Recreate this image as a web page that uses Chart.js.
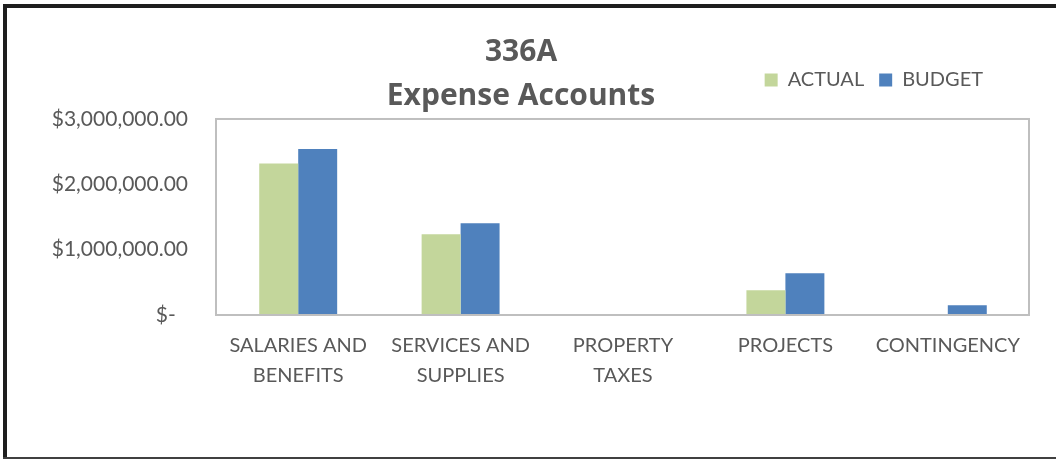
<!DOCTYPE html>
<html>
<head>
<meta charset="utf-8">
<script src="https://cdn.jsdelivr.net/npm/chart.js@4/dist/chart.umd.min.js"></script>
<style>
  html, body { margin: 0; padding: 0; background: #ffffff; }
  #wrap { position: relative; width: 1056px; height: 459px; }
</style>
</head>
<body>
<div id="wrap"><canvas id="c" width="1056" height="459"></canvas></div>
<script>
const categories = [
  ['SALARIES AND', 'BENEFITS'],
  ['SERVICES AND', 'SUPPLIES'],
  ['PROPERTY', 'TAXES'],
  'PROJECTS',
  'CONTINGENCY'
];
const actualValues = [2320000, 1235000, 0, 378000, 0];
const budgetValues = [2540000, 1405000, 0, 638000, 148000];
const seriesNames = ['ACTUAL', 'BUDGET'];
const titleLines = ['336A', 'Expense Accounts'];
const yTickMax = 3000000;
const yTickStep = 1000000;

const FONT = 'Lato';
const TEXT = '#595959';

function money(v) {
  if (v === 0) return '$-\u2007';
  const s = Math.round(v).toString().replace(/\B(?=(\d{3})+(?!\d))/g, ',');
  return '$' + s + '.00';
}

const decor = {
  id: 'decor',
  afterLayout(chart) {
    const lg = chart.legend;
    const h = lg.height;
    lg.top = 55; lg.bottom = 55 + h;
    lg.right = 998;
  },
  afterDatasetsDraw(chart) {
    const {ctx, chartArea: a} = chart;
    ctx.save();
    ctx.strokeStyle = '#BFBFBF';
    ctx.lineWidth = 2;
    ctx.strokeRect(a.left - 1, a.top, a.right - a.left + 1, a.bottom - a.top);
    ctx.restore();
  },
  afterDraw(chart) {
    const ctx = chart.ctx;
    ctx.save();
    ctx.fillStyle = '#1e1e1e';
    ctx.fillRect(3, 4, 1053, 4);
    ctx.fillRect(3, 4, 4, 455);
    ctx.fillStyle = '#404040';
    ctx.fillRect(3, 457, 1053, 2);
    ctx.restore();
  }
};

new Chart(document.getElementById('c'), {
  type: 'bar',
  data: {
    labels: categories,
    datasets: [
      { label: seriesNames[0], data: actualValues, backgroundColor: '#C3D69B', borderWidth: 0 },
      { label: seriesNames[1], data: budgetValues, backgroundColor: '#4F81BD', borderWidth: 0 }
    ]
  },
  options: {
    responsive: false,
    animation: false,
    devicePixelRatio: 1,
    layout: { padding: { left: 13, right: 27, top: 0, bottom: 0 } },
    datasets: { bar: { categoryPercentage: 0.48, barPercentage: 1.0 } },
    plugins: {
      title: {
        display: true,
        text: titleLines,
        color: TEXT,
        font: { family: 'Open Sans', size: 30, weight: 'bold', lineHeight: 1.483 },
        padding: { top: 30, bottom: -45 }
      },
      legend: {
        display: true,
        position: 'top',
        align: 'end',
        labels: {
          color: TEXT,
          font: { family: FONT, size: 20 },
          boxWidth: 13,
          boxHeight: 13,
          padding: 15
        }
      },
      tooltip: { enabled: false }
    },
    scales: {
      x: {
        grid: { display: false, drawTicks: false },
        border: { display: false },
        ticks: {
          color: TEXT,
          font: { family: FONT, size: 20, lineHeight: 1.5 },
          padding: 16,
          maxRotation: 0,
          autoSkip: false
        },
        afterFit(s) { s.height = 144; }
      },
      y: {
        min: 0,
        max: yTickMax,
        grid: { display: false, drawTicks: false },
        border: { display: false },
        ticks: {
          stepSize: yTickStep,
          color: TEXT,
          font: { family: FONT, size: 21 },
          padding: 29,
          callback: (v) => money(v)
        },
        afterFit(s) { s.width = 204; }
      }
    }
  },
  plugins: [decor]
});
</script>
</body>
</html>
